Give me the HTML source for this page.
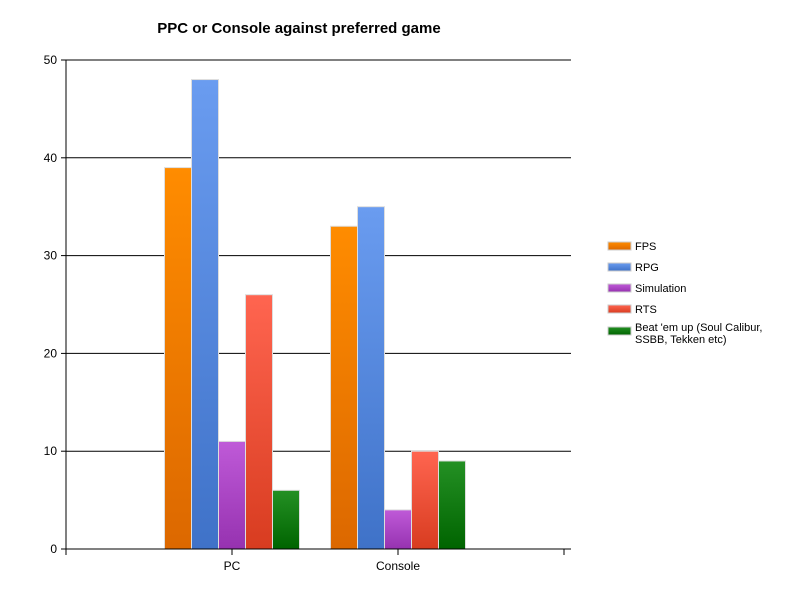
<!DOCTYPE html>
<html><head><meta charset="utf-8"><style>
body{margin:0;background:#fff;font-family:"Liberation Sans",sans-serif}
</style></head><body>
<svg id="c" width="800" height="600" xmlns="http://www.w3.org/2000/svg">
<defs>
<linearGradient id="g0" x1="0" y1="0" x2="0" y2="1"><stop offset="0" stop-color="#ff8c00"/><stop offset="1" stop-color="#dc6800"/></linearGradient>
<linearGradient id="g1" x1="0" y1="0" x2="0" y2="1"><stop offset="0" stop-color="#6a9cf0"/><stop offset="1" stop-color="#3f72c8"/></linearGradient>
<linearGradient id="g2" x1="0" y1="0" x2="0" y2="1"><stop offset="0" stop-color="#bf5ad8"/><stop offset="1" stop-color="#9632b0"/></linearGradient>
<linearGradient id="g3" x1="0" y1="0" x2="0" y2="1"><stop offset="0" stop-color="#ff6550"/><stop offset="1" stop-color="#d83c20"/></linearGradient>
<linearGradient id="g4" x1="0" y1="0" x2="0" y2="1"><stop offset="0" stop-color="#249024"/><stop offset="1" stop-color="#006400"/></linearGradient>
</defs>
<text x="299" y="33" text-anchor="middle" font-size="15" font-weight="bold">PPC or Console against preferred game</text>
<g id="grid"></g><g id="bars"></g><g id="axes"></g><g id="legend"></g>
</svg>
<script>
const categories=["PC","Console"];
const seriesNames=["FPS","RPG","Simulation","RTS","Beat 'em up (Soul Calibur, SSBB, Tekken etc)"];
const fps=[39,33];
const rpg=[48,35];
const simulation=[11,4];
const rts=[26,10];
const beat=[6,9];
const yTicks=[0,10,20,30,40,50];
const series=[fps,rpg,simulation,rts,beat];
const NS="http://www.w3.org/2000/svg";
const x0=66,x1=571,y0=549,yTop=60,yMax=50;
const y=v=>y0-(y0-yTop)*v/yMax;
const catX=i=>66+166*(i+1);
function mk(t,a,p){const e=document.createElementNS(NS,t);for(const k in a)e.setAttribute(k,a[k]);p.appendChild(e);return e;}
const grid=document.getElementById('grid'),bars=document.getElementById('bars'),axes=document.getElementById('axes'),leg=document.getElementById('legend');
yTicks.forEach(v=>{
 if(v>0){const l=mk('line',{x1:x0,x2:x1,y1:y(v),y2:y(v),stroke:'#000','stroke-width':1},grid);
 }
 const tk=mk('line',{x1:x0-5,x2:x0,y1:y(v),y2:y(v),stroke:'#000'},axes);
 
 const t=mk('text',{x:x0-9,y:y(v)+4,'text-anchor':'end','font-size':12},axes);t.textContent=v;
 
});
const bw=27;
categories.forEach((c,i)=>{
 const start=catX(i)-bw*series.length/2;
 series.forEach((s,j)=>{
  const r=mk('rect',{x:start+j*bw,y:y(s[i]),width:bw,height:y0-y(s[i]),fill:'url(#g'+j+')',stroke:'#ddd','stroke-width':1},bars);
  
 });
 const t=mk('text',{x:catX(i),y:570,'text-anchor':'middle','font-size':12},axes);t.textContent=c;
 
});
[0,1,2,3].forEach(k=>{const tk=mk('line',{x1:66+166*k,x2:66+166*k,y1:y0,y2:y0+6,stroke:'#000'},axes);
 });
let a=mk('line',{x1:x0,x2:x0,y1:yTop,y2:y0,stroke:'#000'},axes);
a=mk('line',{x1:x0,x2:x1,y1:y0,y2:y0,stroke:'#000'},axes);
const ly=[246,267,288,309,331];
seriesNames.forEach((n,j)=>{
 const r=mk('rect',{x:608,y:ly[j]-4,width:23,height:8,fill:'url(#g'+j+')',stroke:'#ccc'},leg);
 
 const t=mk('text',{x:635,y:ly[j]+4,'font-size':11},leg);
 
 if(j===4){mk('tspan',{x:635,dy:-4},t).textContent="Beat 'em up (Soul Calibur,";mk('tspan',{x:635,dy:12},t).textContent="SSBB, Tekken etc)";}
 else t.textContent=n;
});
</script>
</body></html>
